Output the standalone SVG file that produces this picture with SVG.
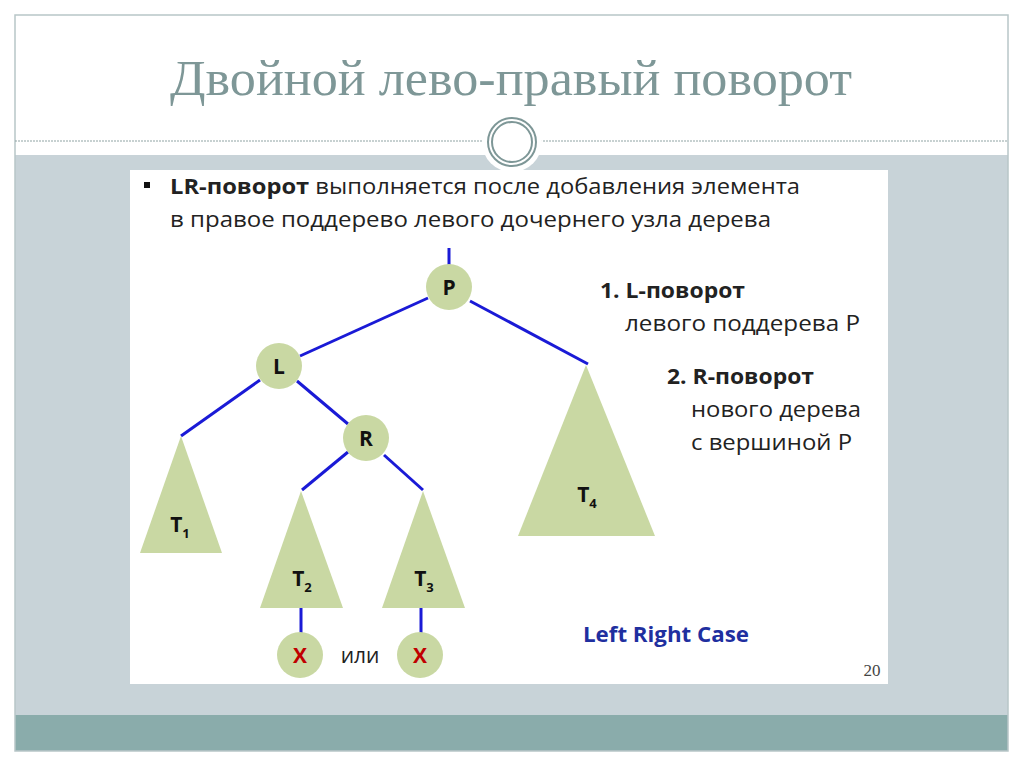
<svg xmlns="http://www.w3.org/2000/svg" width="1024" height="767" viewBox="0 0 1024 767">
<style>
.e{stroke:#1a1ad6;stroke-width:3;fill:none}
.n{fill:#c9d8a3}
.t{font-family:"Open Sans","Liberation Sans",sans-serif;font-size:21px;fill:#222}
.b{font-weight:bold}
.lbl{font-family:"Open Sans","Liberation Sans",sans-serif;font-size:21px;font-weight:bold;fill:#111;text-anchor:middle}
.sub{font-size:13px}
</style>
<rect width="1024" height="767" fill="#fff"/>
<rect x="15" y="155" width="993" height="560" fill="#c8d3d8"/>
<rect x="15" y="715" width="993" height="36" fill="#8aacab"/>
<rect x="15" y="15" width="993" height="736" fill="none" stroke="#b8c6c8" stroke-width="1.5"/>
<line x1="15" y1="141" x2="1008" y2="141" stroke="#8fa3a3" stroke-width="1" stroke-dasharray="2,1"/>
<circle cx="512" cy="142" r="30" fill="#fff"/>
<circle cx="512" cy="142" r="24" fill="#fff" stroke="#7e9797" stroke-width="2"/>
<circle cx="512" cy="142" r="20" fill="none" stroke="#7e9797" stroke-width="2"/>
<text x="170" y="95" font-family="Liberation Serif,serif" font-size="50" fill="#7e9797" textLength="682" lengthAdjust="spacingAndGlyphs">Двойной лево-правый поворот</text>
<rect x="130" y="170" width="758" height="514" fill="#fff"/>
<rect x="144" y="182" width="6" height="6" fill="#111"/>
<text class="t" x="170" y="194" textLength="630" lengthAdjust="spacingAndGlyphs"><tspan class="b">LR-поворот</tspan> выполняется после добавления элемента</text>
<text class="t" x="170" y="227" textLength="601" lengthAdjust="spacingAndGlyphs">в правое поддерево левого дочернего узла дерева</text>
<g id="connectors">
<line class="e" x1="449" y1="248" x2="449" y2="266"/>
<line class="e" x1="428" y1="298" x2="300" y2="356"/>
<line class="e" x1="470" y1="301" x2="588" y2="364"/>
<line class="e" x1="260" y1="380" x2="181" y2="436"/>
<line class="e" x1="297" y1="381" x2="348" y2="424"/>
<line class="e" x1="348" y1="452" x2="302" y2="490"/>
<line class="e" x1="384" y1="455" x2="423" y2="490"/>
<line class="e" x1="301" y1="608" x2="301" y2="633"/>
<line class="e" x1="421" y1="608" x2="421" y2="633"/>
</g>
<g id="P"><circle class="n" cx="449" cy="287" r="23"/><text class="lbl" x="449" y="295">P</text></g>
<g id="L"><circle class="n" cx="279" cy="366" r="23"/><text class="lbl" x="279" y="374">L</text></g>
<g id="R"><circle class="n" cx="366" cy="438" r="23"/><text class="lbl" x="366" y="446">R</text></g>
<g id="T1"><polygon class="n" points="181,436 222,553 140,553"/><text class="lbl" x="180" y="532">T<tspan class="sub" dy="6">1</tspan></text></g>
<g id="T2"><polygon class="n" points="301,491 343,608 260,608"/><text class="lbl" x="302" y="586">T<tspan class="sub" dy="6">2</tspan></text></g>
<g id="T3"><polygon class="n" points="423,491 465,608 382,608"/><text class="lbl" x="424" y="586">T<tspan class="sub" dy="6">3</tspan></text></g>
<g id="T4"><polygon class="n" points="586,365 655,536 518,536"/><text class="lbl" x="587" y="502">T<tspan class="sub" dy="6">4</tspan></text></g>
<g id="X1"><circle class="n" cx="300" cy="655" r="23"/><text class="lbl" x="300" y="663" style="fill:#c00000">X</text></g>
<g id="X2"><circle class="n" cx="420" cy="655" r="23"/><text class="lbl" x="420" y="663" style="fill:#c00000">X</text></g>
<text class="t" x="360" y="663" text-anchor="middle">или</text>
<text class="t b" x="600" y="298" textLength="145" lengthAdjust="spacingAndGlyphs">1. L-поворот</text>
<text class="t" x="625" y="331" textLength="235" lengthAdjust="spacingAndGlyphs">левого поддерева P</text>
<text class="t b" x="667" y="384" textLength="147" lengthAdjust="spacingAndGlyphs">2. R-поворот</text>
<text class="t" x="691" y="417" textLength="170" lengthAdjust="spacingAndGlyphs">нового дерева</text>
<text class="t" x="691" y="450" textLength="161" lengthAdjust="spacingAndGlyphs">с вершиной P</text>
<text class="t b" x="583" y="642" style="fill:#1f2f9f" textLength="166" lengthAdjust="spacingAndGlyphs">Left Right Case</text>
<text x="872" y="676" font-family="Liberation Serif,serif" font-size="17" fill="#444" text-anchor="middle">20</text>
</svg>
